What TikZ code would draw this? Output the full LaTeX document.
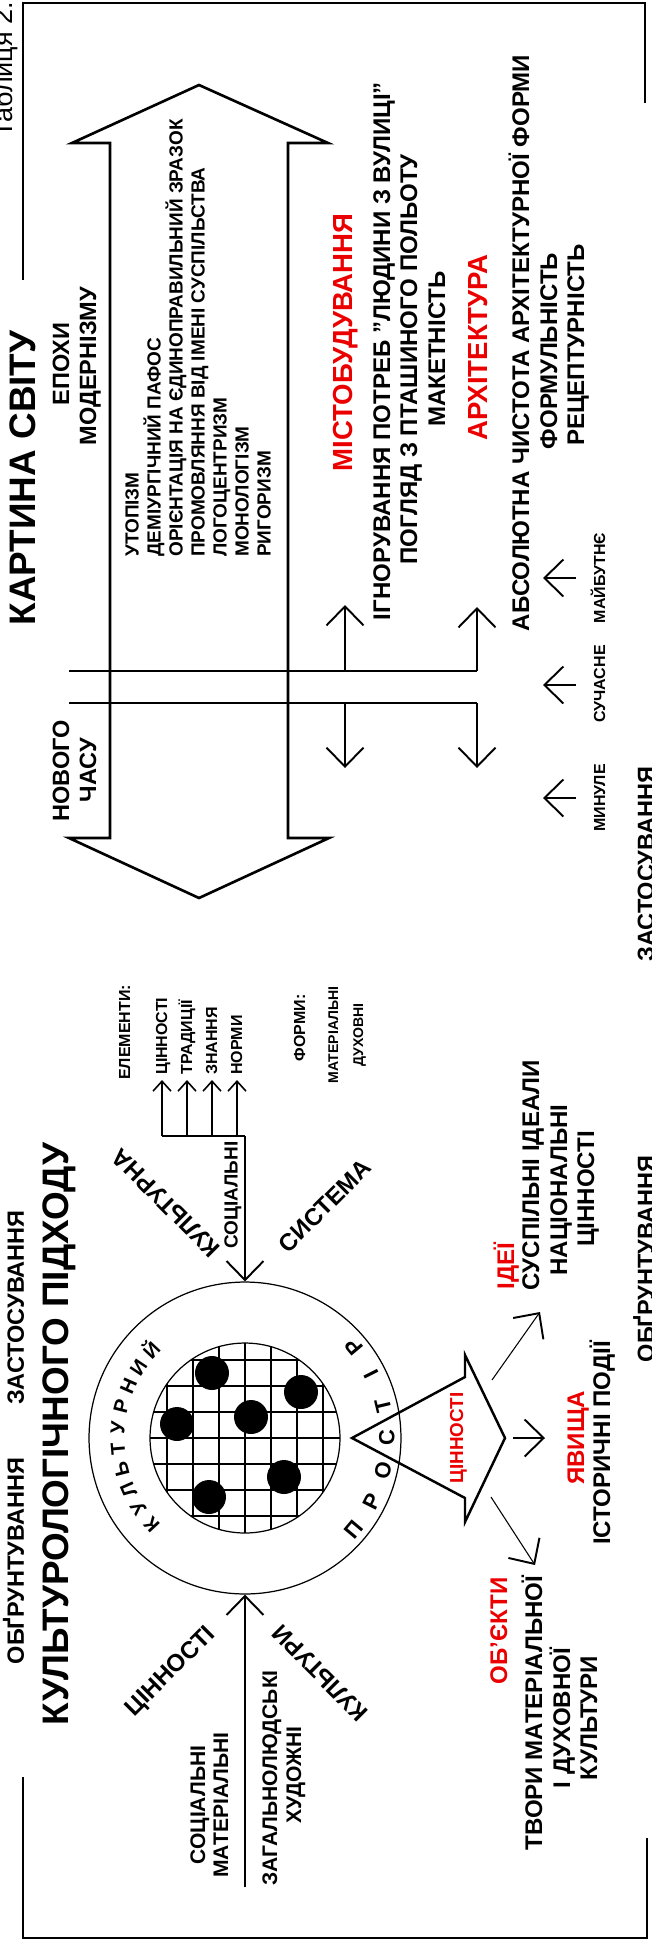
\documentclass[tikz,border=0pt]{standalone}
\usepackage{fontspec}
\setmainfont{Liberation Sans}
\usetikzlibrary{arrows.meta}
\usetikzlibrary{calc}
\definecolor{headred}{RGB}{235,0,0}
\tikzset{vtext/.style={rotate=90,inner sep=0pt,anchor=base}}
\tikzset{title/.style={vtext,font=\bfseries\fontsize{21}{25}\selectfont}}
\tikzset{head/.style={vtext,font=\bfseries\fontsize{13.4}{16}\selectfont}}
\tikzset{body/.style={vtext,font=\bfseries\fontsize{13.7}{16}\selectfont}}
\tikzset{redhead/.style={body,text=headred}}
\tikzset{bigred/.style={vtext,text=headred,font=\bfseries\fontsize{15.7}{18}\selectfont}}
\tikzset{listitem/.style={vtext,anchor=base west,font=\bfseries\fontsize{10.8}{13}\selectfont}}
\tikzset{tag/.style={vtext,font=\bfseries\fontsize{9.1}{11}\selectfont}}
\tikzset{slant/.style={inner sep=0pt,font=\bfseries\fontsize{13.7}{16}\selectfont}}
\tikzset{ringletter/.style={inner sep=0pt,text height=0.72em,text depth=0pt}}
\tikzset{thinline/.style={line width=0.6pt}}
\tikzset{bigtip/.style={line width=0.6pt,-{Straight Barb[length=0.38cm,width=0.74cm,line width=1.1pt]}}}
\tikzset{smalltip/.style={line width=0.6pt,-{Straight Barb[length=0.2cm,width=0.36cm,line width=0.9pt]}}}

\begin{document}
\begin{tikzpicture}[x=0.02cm,y=-0.02cm]
\useasboundingbox (0,0) rectangle (652,1948);
% frame
\draw[thinline] (23,280) -- (23,3) -- (645,3) -- (645,103);
\draw[thinline] (23,1777) -- (23,1938) -- (647,1938) -- (647,1838);
\node[vtext,anchor=base west,font=\fontsize{15.4}{18}\selectfont] (tab) at (12,138) {Таблиця 2.6};

% world picture
\node[title] (world) at (35.5,478) {КАРТИНА СВІТУ};
\node[head] (ep1) at (69,364) {ЕПОХИ};
\node[head] (ep2) at (96,366) {МОДЕРНІЗМУ};
\node[head] (nc1) at (69,771) {НОВОГО};
\node[head] (nc2) at (96,770) {ЧАСУ};
\draw[line width=1.5pt,line join=miter] (199,85) -- (328,143) -- (288,143) -- (288,838)
  -- (329,838) -- (199,898) -- (69,838) -- (110,838) -- (110,143) -- (72,143) -- cycle;
\foreach \t [count=\i] in {УТОПІЗМ,ДЕМІУРГІЧНИЙ ПАФОС,ОРІЄНТАЦІЯ НА ЄДИНОПРАВИЛЬНИЙ ЗРАЗОК,
  ПРОМОВЛЯННЯ ВІД ІМЕНІ СУСПІЛЬСТВА,ЛОГОЦЕНТРИЗМ,МОНОЛОГІЗМ,РИГОРИЗМ}
  \node[listitem] (item\i) at ({116.5+22*\i},557) {\t};

% time bars
\coordinate (j1w) at (69,671);  \coordinate (j1a) at (345,671); \coordinate (j1b) at (477,671);
\coordinate (j2w) at (69,703);  \coordinate (j2a) at (345,703); \coordinate (j2b) at (477,703);
\coordinate (cityup) at (345,605); \coordinate (archup) at (477,607);
\coordinate (citydn) at (345,768); \coordinate (archdn) at (477,768);
\draw[thinline] (j1w) -- (j1b);
\draw[thinline] (j2w) -- (j2b);
\draw[bigtip] (j1a) -- (cityup);
\draw[bigtip] (j1b) -- (archup);
\draw[bigtip] (j2a) -- (citydn);
\draw[bigtip] (j2b) -- (archdn);

\node[bigred] (city) at (352.5,342.5) {МІСТОБУДУВАННЯ};
\node[body] (city1) at (390,351) {ІГНОРУВАННЯ ПОТРЕБ "ЛЮДИНИ З ВУЛИЦІ"};
\node[body] (city2) at (417,359.5) {ПОГЛЯД З ПТАШИНОГО ПОЛЬОТУ};
\node[body] (city3) at (445,349) {МАКЕТНІСТЬ};
\node[bigred] (arch) at (487.5,347.5) {АРХІТЕКТУРА};
\node[body] (arch1) at (529,343) {АБСОЛЮТНА ЧИСТОТА АРХІТЕКТУРНОЇ ФОРМИ};
\node[body] (arch2) at (557,351) {ФОРМУЛЬНІСТЬ};
\node[body] (arch3) at (584,345) {РЕЦЕПТУРНІСТЬ};

% past, present, future
\foreach \y/\n in {578/fut,685/now,798/past} {
  \coordinate (\n0) at (576,\y); \coordinate (\n1) at (543,\y);
  \draw[bigtip] (\n0) -- (\n1);
}
\node[tag] (fut) at (605,578) {МАЙБУТНЄ};
\node[tag] (now) at (605,684) {СУЧАСНЕ};
\node[tag] (past) at (605,798) {МИНУЛЕ};
\node[head] (use2) at (654,864) {ЗАСТОСУВАННЯ};
\node[head] (found2) at (654,1259) {ОБҐРУНТУВАННЯ};

% cultural approach
\node[head] (found) at (24,1561) {ОБҐРУНТУВАННЯ};
\node[head] (use) at (24,1307.5) {ЗАСТОСУВАННЯ};
\node[title] (approach) at (68.5,1434) {КУЛЬТУРОЛОГІЧНОГО ПІДХОДУ};

\node[circle,draw,line width=0.7pt,minimum size=6.24cm,inner sep=0pt] (ring) at (245,1438) {};
\node[circle,draw,line width=0.7pt,minimum size=3.8cm,inner sep=0pt] (core) at (245,1438) {};
\begin{scope}
  \clip (245,1438) circle[radius=1.9cm];
  \foreach \d in {-78,-52,-26,0,26,52,78} {
    \draw[thinline] (245+\d,1340) -- (245+\d,1536);
    \draw[thinline] (147,1438+\d) -- (343,1438+\d);
  }
\end{scope}
\foreach \p in {(212,1373),(177,1424),(251,1417),(301,1392),(284,1477),(209,1497)}
  \fill \p circle[radius=0.34cm];
\begin{scope}[shift={(245,1438)},y=0.02cm]
  \foreach \l [count=\i] in {К,У,Л,Ь,Т,У,Р,Н,И,Й} {
    \pgfmathsetmacro\a{223-(\i-1)*9.56}
    \pgfmathsetmacro\r{\a-90}
    \node[ringletter,font=\bfseries\fontsize{11.4}{13}\selectfont,rotate=\r] (ku\i) at (\a:127) {\l};
  }
  \foreach \l [count=\i] in {П,Р,О,С,Т,І,Р} {
    \pgfmathsetmacro\a{-40+(\i-1)*13.33}
    \pgfmathsetmacro\r{\a+90}
    \node[ringletter,font=\bfseries\fontsize{12.5}{14}\selectfont,rotate=\r] (pr\i) at (\a:143) {\l};
  }
\end{scope}

% social input
\coordinate (socTop) at (245,1136);
\coordinate (elbar) at (162,1136);
\draw[bigtip] (socTop) -- (ring.north);
\draw[thinline] (elbar) -- (socTop);
\foreach \x/\t [count=\i] in {162/ЦІННОСТІ,187/ТРАДИЦІЇ,212/ЗНАННЯ,237/НОРМИ} {
  \coordinate (el\i) at (\x,1080);
  \draw[smalltip] (\x,1136) -- (el\i);
  \node[tag,anchor=base west] (elt\i) at (\x+5,1075) {\t};
}
\node[tag,anchor=base west] (elements) at (130,1080) {ЕЛЕМЕНТИ:};
\node[vtext,font=\bfseries\fontsize{10.8}{13}\selectfont] (soc) at (237.5,1195) {СОЦІАЛЬНІ};
\node[tag] (forms) at (305,1028) {ФОРМИ:};
\node[vtext,font=\bfseries\fontsize{8}{10}\selectfont] (form1) at (338,1035) {МАТЕРІАЛЬНІ};
\node[vtext,font=\bfseries\fontsize{8}{10}\selectfont] (form2) at (363,1035) {ДУХОВНІ};
\node[slant,rotate=135] (kult) at (166,1203) {КУЛЬТУРНА};
\node[slant,rotate=45] (sys) at (325,1206) {СИСТЕМА};

% values input
\coordinate (cultFoot) at (245,1887);
\draw[bigtip] (cultFoot) -- (ring.south);
\node[slant,rotate=45] (cval) at (171,1672) {ЦІННОСТІ};
\node[slant,rotate=135] (ckult) at (320,1673) {КУЛЬТУРИ};
\node[vtext,font=\bfseries\fontsize{12}{14}\selectfont] (v1) at (205,1805) {СОЦІАЛЬНІ};
\node[vtext,font=\bfseries\fontsize{12}{14}\selectfont] (v2) at (228,1805) {МАТЕРІАЛЬНІ};
\node[vtext,font=\bfseries\fontsize{12}{14}\selectfont] (v3) at (277,1778) {ЗАГАЛЬНОЛЮДСЬКІ};
\node[vtext,font=\bfseries\fontsize{12}{14}\selectfont] (v4) at (301,1775) {ХУДОЖНІ};

% values output
\draw[line width=1.4pt,line join=miter] (352,1438) -- (465,1377) -- (465,1355) -- (505,1438)
  -- (465,1522) -- (465,1498) -- cycle;
\node[vtext,text=headred,font=\bfseries\fontsize{10.7}{13}\selectfont] (valtag) at (463,1438) {ЦІННОСТІ};
\coordinate (vUp) at (492,1380);  \coordinate (ideaTip) at (540,1312);
\coordinate (vMid) at (513,1438); \coordinate (phenTip) at (545,1438);
\coordinate (vLow) at (491,1497); \coordinate (objTip) at (535,1565);
\draw[bigtip] (vUp) -- (ideaTip);
\draw[bigtip] (vMid) -- (phenTip);
\draw[bigtip] (vLow) -- (objTip);
\node[redhead] (idea) at (514,1266) {ІДЕЇ};
\node[body] (idea1) at (539,1175) {СУСПІЛЬНІ ІДЕАЛИ};
\node[body] (idea2) at (567,1190) {НАЦІОНАЛЬНІ};
\node[body] (idea3) at (594,1189) {ЦІННОСТІ};
\node[redhead] (phen) at (584,1438) {ЯВИЩА};
\node[body] (phen1) at (610,1443) {ІСТОРИЧНІ ПОДІЇ};
\node[redhead] (obj) at (507,1631) {ОБ'ЄКТИ};
\node[body] (obj1) at (542,1713) {ТВОРИ МАТЕРІАЛЬНОЇ};
\node[body] (obj2) at (570,1718) {І ДУХОВНОЇ};
\node[body] (obj3) at (597,1718) {КУЛЬТУРИ};
\end{tikzpicture}
\end{document}
